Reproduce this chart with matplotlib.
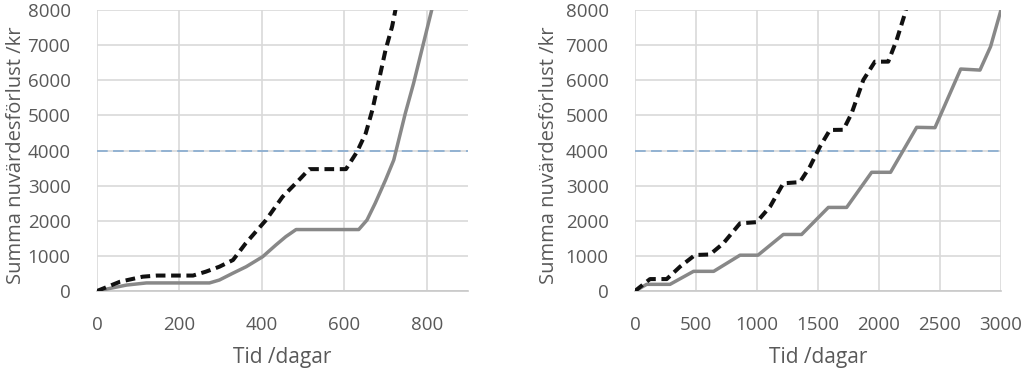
import numpy as np
import matplotlib.pyplot as plt

# Datos (tid i dagar, summa nuvardesforlust i kr)
# Vänster diagram
t_a_streck = [0, 56, 111, 145, 233, 264, 297, 330, 361, 410, 450, 490, 515,
              604, 631, 652, 668, 684, 700, 716, 724, 735]
y_a_streck = [0, 265, 408, 440, 440, 550, 692, 883, 1360, 2020, 2680, 3160,
              3470, 3470, 3966, 4490, 5150, 6000, 6860, 7530, 8000, 8600]

t_a_hel = [0, 72, 120, 273, 297, 329, 362, 402, 434, 458, 483, 635, 655,
           675, 700, 720, 732, 748, 768, 788, 812, 820]
y_a_hel = [0, 170, 230, 230, 313, 503, 692, 977, 1310, 1547, 1750, 1750,
           2020, 2500, 3160, 3730, 4300, 5060, 5910, 6860, 8000, 8300]

# Höger diagram
t_b_streck = [0, 123, 260, 369, 492, 615, 724, 861, 997, 1107, 1216, 1352,
              1434, 1516, 1598, 1708, 1776, 1872, 1967, 2076, 2145, 2213, 2240]
y_b_streck = [0, 340, 340, 692, 1025, 1040, 1357, 1927, 1960, 2400, 3066,
              3100, 3540, 4110, 4585, 4590, 5060, 6010, 6530, 6530, 7147,
              7900, 8300]

t_b_hel = [0, 96, 287, 480, 645, 861, 1008, 1216, 1366, 1585, 1735, 1940,
           2095, 2309, 2459, 2670, 2828, 2915, 3000]
y_b_hel = [0, 190, 190, 560, 560, 1020, 1020, 1610, 1610, 2380, 2380, 3380,
           3380, 4660, 4650, 6320, 6290, 6960, 8000]

gransvarde = 4000

x_ticks_a = [0, 200, 400, 600, 800]
x_ticks_b = [0, 500, 1000, 1500, 2000, 2500, 3000]
y_ticks = [0, 1000, 2000, 3000, 4000, 5000, 6000, 7000, 8000]

plt.rcParams['font.family'] = ['Open Sans', 'DejaVu Sans']

fig = plt.figure(figsize=(10.24, 3.71), dpi=100)
ax1 = fig.add_axes([0.0947, 0.2156, 0.3623, 0.7574])
ax2 = fig.add_axes([0.6201, 0.2156, 0.3574, 0.7574])

text_farg = '#595959'
grid_farg = '#d9d9d9'


def rita(ax, t_s, y_s, t_h, y_h, xmax, xticks, ylabel_x):
    ax.plot(t_h, y_h, color='#888888', lw=2.5, solid_capstyle='round',
            solid_joinstyle='round', zorder=3)
    ax.plot(t_s, y_s, color='#111111', lw=2.9, dashes=(2.4, 1.4),
            zorder=4)
    ax.axhline(gransvarde, color='#7ea6cf', lw=1.1, dashes=(7, 3.5),
               zorder=2)
    ax.set_xlim(0, xmax)
    ax.set_ylim(0, 8000)
    ax.set_xticks(xticks)
    ax.set_yticks(y_ticks)
    ax.grid(True, color=grid_farg, lw=1.2)
    ax.set_axisbelow(True)
    for s in ['top', 'right', 'left']:
        ax.spines[s].set_visible(False)
    ax.spines['bottom'].set_color('#c8c8c8')
    ax.spines['bottom'].set_linewidth(1.2)
    ax.tick_params(length=0, labelsize=13.5, colors=text_farg)
    ax.tick_params(axis='y', pad=19)
    ax.tick_params(axis='x', pad=18)
    ax.set_xlabel('Tid /dagar', fontsize=15, color=text_farg, labelpad=9)
    ax.set_ylabel('Summa nuvärdesförlust /kr', fontsize=14.5,
                  color=text_farg)
    ax.yaxis.set_label_coords(ylabel_x, 0.484)


rita(ax1, t_a_streck, y_a_streck, t_a_hel, y_a_hel, 900, x_ticks_a, -0.192)
rita(ax2, t_b_streck, y_b_streck, t_b_hel, y_b_hel, 3000, x_ticks_b, -0.208)

fig.savefig('out.png', dpi=100)
